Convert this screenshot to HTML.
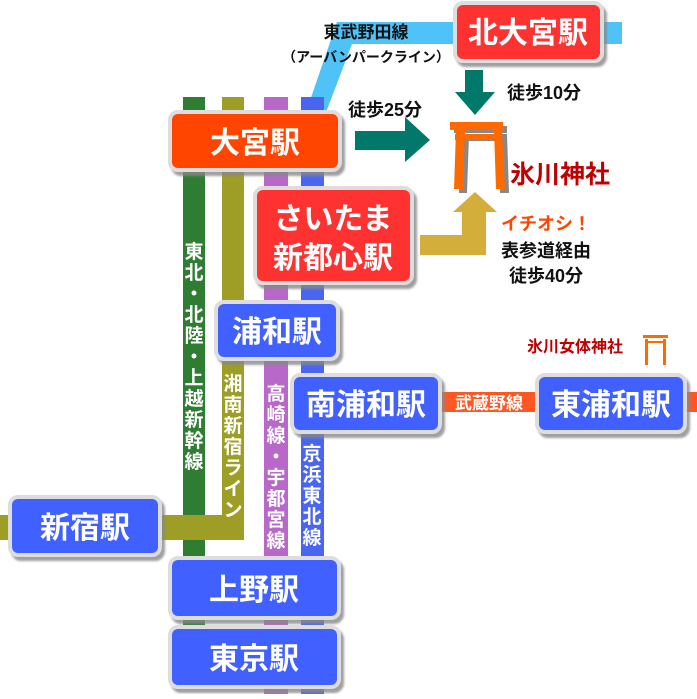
<!DOCTYPE html><html><head><meta charset="utf-8"><style>
body{margin:0;width:697px;height:694px;background:#fff;overflow:hidden;font-family:"Liberation Sans","Noto Sans CJK JP",sans-serif}
svg text{font-family:"Liberation Sans","Noto Sans CJK JP",sans-serif;font-weight:bold}
</style></head><body>
<svg width="697" height="694" viewBox="0 0 697 694">
<defs><filter id="s" x="-10%" y="-10%" width="130%" height="140%"><feDropShadow dx="3" dy="4" stdDeviation="1" flood-color="#888" flood-opacity="0.8"/></filter></defs>
<polygon points="305,115 337,22 622,22 622,44 352,44 325,115" fill="#4fc3f7"/>
<rect x="183" y="97" width="22" height="540" fill="#2e7d32"/>
<rect x="222" y="97" width="22" height="443" fill="#9e9e26"/>
<rect x="0" y="515" width="244" height="25" fill="#9e9e26"/>
<rect x="264" y="97" width="24" height="597" fill="#b868c8"/>
<rect x="301" y="97" width="23" height="597" fill="#4a66f0"/>
<rect x="440" y="392" width="257" height="20" fill="#ff5722"/>
<g fill="#fff" font-size="19" text-anchor="middle">
<text x="194" y="258">東</text><text x="194" y="279">北</text><text x="194" y="300">・</text><text x="194" y="321">北</text><text x="194" y="342">陸</text><text x="194" y="363">・</text><text x="194" y="384">上</text><text x="194" y="405">越</text><text x="194" y="426">新</text><text x="194" y="447">幹</text><text x="194" y="468">線</text>
<text x="233" y="390">湘</text><text x="233" y="411">南</text><text x="233" y="432">新</text><text x="233" y="453">宿</text><text x="233" y="474">ラ</text><text x="233" y="495">イ</text><text x="233" y="516">ン</text>
<text x="276" y="400">高</text><text x="276" y="421">崎</text><text x="276" y="442">線</text><text x="276" y="463">・</text><text x="276" y="484">宇</text><text x="276" y="505">都</text><text x="276" y="526">宮</text><text x="276" y="547">線</text>
<text x="312" y="460">京</text><text x="312" y="481">浜</text><text x="312" y="502">東</text><text x="312" y="523">北</text><text x="312" y="544">線</text>
<text x="489" y="409" font-size="17">武蔵野線</text>
</g>
<g stroke="#ddd" stroke-width="4" filter="url(#s)">
<rect x="455" y="3" width="147" height="58" rx="8" fill="#ff3333"/>
<rect x="170" y="112" width="170" height="58" rx="8" fill="#ff4500"/>
<rect x="255" y="188" width="157" height="95" rx="8" fill="#ff3333"/>
<rect x="216" y="302" width="122" height="57" rx="8" fill="#4060ff"/>
<rect x="292" y="375" width="148" height="57" rx="8" fill="#4060ff"/>
<rect x="537" y="375" width="148" height="57" rx="8" fill="#4060ff"/>
<rect x="10" y="497" width="150" height="58" rx="8" fill="#4060ff"/>
<rect x="170" y="558" width="169" height="60" rx="8" fill="#4060ff"/>
<rect x="170" y="627" width="169" height="60" rx="8" fill="#4060ff"/>
</g>
<g fill="#fff" font-size="30" text-anchor="middle">
<text x="528" y="43">北大宮駅</text>
<text x="255" y="153">大宮駅</text>
<text x="333" y="229">さいたま</text>
<text x="333" y="268">新都心駅</text>
<text x="277" y="342">浦和駅</text>
<text x="366" y="415">南浦和駅</text>
<text x="611" y="415">東浦和駅</text>
<text x="85" y="538">新宿駅</text>
<text x="254" y="600">上野駅</text>
<text x="254" y="669">東京駅</text>
</g>
<g fill="#00796b">
<polygon points="465,70 483,70 483,92 495,92 475,115 455,92 465,92"/>
<polygon points="355,131 405,131 405,117 430,140 405,162 405,150 355,150"/>
</g>
<polygon points="420,235 462,235 462,212 453,212 475,192 497,212 486,212 486,255 420,255" fill="#d4ae3a"/>
<g fill="#888"><rect x="454" y="126" width="53" height="7"/><polygon points="460,134 469,134 467,193 459,193"/><polygon points="499,134 507,134 509,193 500,193"/><rect x="459" y="136" width="45" height="5"/></g>
<g fill="#ff6a00"><rect x="450" y="122" width="53" height="8"/><polygon points="456,130 465,130 463,189 454,189"/><polygon points="494,130 502,130 505,189 496,189"/><rect x="455" y="134" width="45" height="6"/></g>
<g fill="#ff6a00"><rect x="643" y="335" width="25" height="3"/><rect x="645" y="339" width="3" height="26"/><rect x="663" y="339" width="3" height="26"/><rect x="645" y="341" width="20" height="2"/></g>
<g fill="#111">
<text x="366" y="38" font-size="17" text-anchor="middle">東武野田線</text>
<text x="366" y="62" font-size="14" text-anchor="middle">（アーバンパークライン）</text>
<text x="507" y="99" font-size="18">徒歩10分</text>
<text x="348" y="116" font-size="18">徒歩25分</text>
<text x="546" y="257" font-size="18" text-anchor="middle">表参道経由</text>
<text x="546" y="282" font-size="18" text-anchor="middle">徒歩40分</text>
</g>
<text x="510" y="183" font-size="25" fill="#c00000" font-weight="bold">氷川神社</text>
<text x="546" y="230" font-size="18" fill="#ff4500" text-anchor="middle">イチオシ！</text>
<text x="527" y="352" font-size="16" fill="#c00000">氷川女体神社</text>
</svg>
</body></html>
